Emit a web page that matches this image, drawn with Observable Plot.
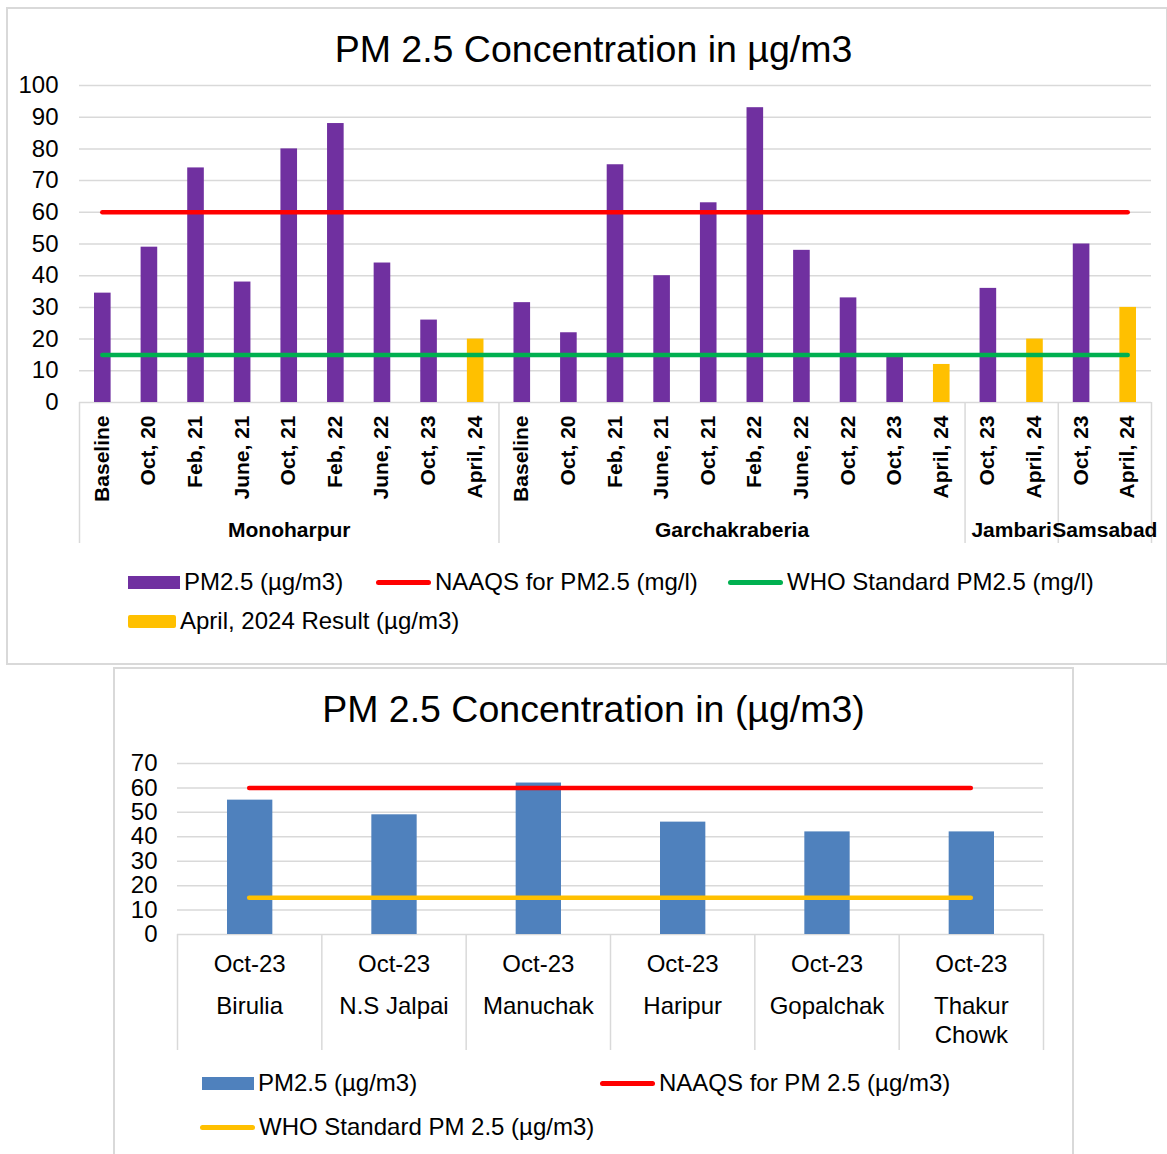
<!DOCTYPE html>
<html>
<head>
<meta charset="utf-8">
<script src="https://cdn.jsdelivr.net/npm/d3@7"></script>
<script src="https://cdn.jsdelivr.net/npm/@observablehq/plot@0.6"></script>
<style>
  html, body { margin: 0; padding: 0; background: #fff; }
  body { width: 1167px; height: 1154px; position: relative; overflow: hidden;
         font-family: "Liberation Sans", Arial, sans-serif; color: #000; }
  .box { position: absolute; border: 2px solid #d9d9d9; box-sizing: border-box; }
  .title { position: absolute; left: 10px; width: 1167px; text-align: center;
           font-size: 37.5px; line-height: 37px; white-space: nowrap; }
  .plotwrap { position: absolute; left: 0; }
  .leg { position: absolute; display: flex; align-items: center; font-size: 24px;
         line-height: 24px; white-space: nowrap; }
  .sw { display: inline-block; margin-right: 4px; }
</style>
</head>
<body>
<script>
// ---------- Chart 1 data ----------
const sites1 = ["Monoharpur", "Garchakraberia", "Jambari", "Samsabad"];
const monoharpurLabels = ["Baseline", "Oct, 20", "Feb, 21", "June, 21", "Oct, 21", "Feb, 22", "June, 22", "Oct, 23", "April, 24"];
const monoharpurValues = [34.5, 49, 74, 38, 80, 88, 44, 26, 20];
const garchakraberiaLabels = ["Baseline", "Oct, 20", "Feb, 21", "June, 21", "Oct, 21", "Feb, 22", "June, 22", "Oct, 22", "Oct, 23", "April, 24"];
const garchakraberiaValues = [31.5, 22, 75, 40, 63, 93, 48, 33, 14.5, 12];
const jambariLabels = ["Oct, 23", "April, 24"];
const jambariValues = [36, 20];
const samsabadLabels = ["Oct, 23", "April, 24"];
const samsabadValues = [50, 30];
const aprilLabel = "April, 24";
const yTicks1 = [0, 10, 20, 30, 40, 50, 60, 70, 80, 90, 100];
const naaqs1 = 60;
const who1 = 15;

// ---------- Chart 2 data ----------
const sites2 = ["Birulia", "N.S Jalpai", "Manuchak", "Haripur", "Gopalchak", "Thakur\nChowk"];
const period2 = "Oct-23";
const values2 = [55, 49, 62, 46, 42, 42];
const yTicks2 = [0, 10, 20, 30, 40, 50, 60, 70];
const naaqs2 = 60;
const who2 = 15;

// ---------- colours ----------
const PURPLE = "#7030a0", YELLOW = "#ffc000", RED = "#ff0000", GREEN = "#00b050", BLUE = "#4f81bd", GRID = "#d9d9d9";
const FONT = '"Liberation Sans", Arial, sans-serif';

function el(tag, cls, css, text) {
  const e = document.createElement(tag);
  if (cls) e.className = cls;
  if (css) Object.assign(e.style, css);
  if (text != null) e.textContent = text;
  document.body.appendChild(e);
  return e;
}
function legendItem(left, top, swatchCss, label) {
  const d = el("div", "leg", {left: left + "px", top: top + "px"});
  const s = document.createElement("span");
  s.className = "sw";
  Object.assign(s.style, swatchCss);
  d.appendChild(s);
  const t = document.createElement("span");
  t.textContent = label;
  d.appendChild(t);
}

// ---------- Chart 1 ----------
el("div", "box", {left: "6px", top: "7px", width: "1162px", height: "658px"});
el("div", "title", {top: "31px"}, "PM 2.5 Concentration in µg/m3");

const groups1 = [
  {name: sites1[0], labels: monoharpurLabels, values: monoharpurValues},
  {name: sites1[1], labels: garchakraberiaLabels, values: garchakraberiaValues},
  {name: sites1[2], labels: jambariLabels, values: jambariValues},
  {name: sites1[3], labels: samsabadLabels, values: samsabadValues}
];
const rows1 = [];
const groupInfo1 = [];
const bounds1 = [-0.5];
groups1.forEach(g => {
  const start = rows1.length;
  g.labels.forEach((l, j) => rows1.push({site: g.name, label: l, value: g.values[j], i: rows1.length}));
  const end = rows1.length - 1;
  groupInfo1.push({name: g.name, center: (start + end) / 2});
  bounds1.push(end + 0.5);
});
const n1 = rows1.length;

const plot1 = Plot.plot({
  width: 1167, height: 490,
  marginLeft: 79, marginRight: 16, marginTop: 15, marginBottom: 158,
  x: {domain: [-0.5, n1 - 0.5], axis: null},
  y: {domain: [0, 100], axis: null},
  style: {fontFamily: FONT, color: "#000", background: "transparent", overflow: "visible"},
  marks: [
    Plot.gridY(yTicks1, {stroke: GRID, strokeOpacity: 1, strokeWidth: 1.5}),
    Plot.axisY(yTicks1, {tickSize: 0, tickPadding: 21, fontSize: 24, label: null}),
    Plot.rectY(rows1.filter(d => d.label !== aprilLabel), {x1: d => d.i - 0.5, x2: d => d.i + 0.5, y: "value", insetLeft: 15, insetRight: 15, fill: PURPLE}),
    Plot.rectY(rows1.filter(d => d.label === aprilLabel), {x1: d => d.i - 0.5, x2: d => d.i + 0.5, y: "value", insetLeft: 15, insetRight: 15, fill: YELLOW}),
    Plot.ruleY([naaqs1], {x1: 0, x2: n1 - 1, stroke: RED, strokeWidth: 4.5, strokeLinecap: "round"}),
    Plot.ruleY([who1], {x1: 0, x2: n1 - 1, stroke: GREEN, strokeWidth: 4.5, strokeLinecap: "round"}),
    Plot.ruleX(bounds1, {y1: 0, y2: 0, insetBottom: -141, stroke: GRID, strokeWidth: 1.5}),
    Plot.text(rows1, {x: "i", text: "label", frameAnchor: "bottom", dx: 6, dy: 13, rotate: -90, textAnchor: "end", fontWeight: "bold", fontSize: 21}),
    Plot.text(groupInfo1, {x: "center", text: "name", frameAnchor: "bottom", dy: 134, fontWeight: "bold", fontSize: 21})
  ]
});
el("div", "plotwrap", {top: "70px"}).appendChild(plot1);

legendItem(128, 570, {width: "52px", height: "13px", background: PURPLE}, "PM2.5 (µg/m3)");
legendItem(376, 570, {width: "55px", height: "5px", borderRadius: "3px", background: RED}, "NAAQS for PM2.5 (mg/l)");
legendItem(728, 570, {width: "55px", height: "5px", borderRadius: "3px", background: GREEN}, "WHO Standard PM2.5 (mg/l)");
legendItem(128, 609, {width: "48px", height: "13px", borderRadius: "2px", background: YELLOW}, "April, 2024 Result (µg/m3)");

// ---------- Chart 2 ----------
el("div", "box", {left: "113px", top: "667px", width: "961px", height: "500px"});
el("div", "title", {top: "691px"}, "PM 2.5 Concentration in (µg/m3)");

const rows2 = sites2.map((s, i) => ({site: s, period: period2, value: values2[i], i}));
const n2 = rows2.length;
const bounds2 = d3.range(n2 + 1).map(k => k - 0.5);

const plot2 = Plot.plot({
  width: 1167, height: 315,
  marginLeft: 177, marginRight: 124, marginTop: 23, marginBottom: 121,
  x: {domain: [-0.5, n2 - 0.5], axis: null},
  y: {domain: [0, 70], axis: null},
  style: {fontFamily: FONT, color: "#000", background: "transparent", overflow: "visible"},
  marks: [
    Plot.gridY(yTicks2, {stroke: GRID, strokeOpacity: 1, strokeWidth: 1.5}),
    Plot.axisY(yTicks2, {tickSize: 0, tickPadding: 20, fontSize: 24, label: null}),
    Plot.rectY(rows2, {x1: d => d.i - 0.5, x2: d => d.i + 0.5, y: "value", insetLeft: 50, insetRight: 49, fill: BLUE}),
    Plot.ruleY([naaqs2], {x1: 0, x2: n2 - 1, stroke: RED, strokeWidth: 4.5, strokeLinecap: "round"}),
    Plot.ruleY([who2], {x1: 0, x2: n2 - 1, stroke: YELLOW, strokeWidth: 4.5, strokeLinecap: "round"}),
    Plot.ruleX(bounds2, {y1: 0, y2: 0, insetBottom: -116, stroke: GRID, strokeWidth: 1.5}),
    Plot.text(rows2, {x: "i", text: "period", frameAnchor: "bottom", dy: 37, fontSize: 24}),
    Plot.text(rows2, {x: "i", text: "site", frameAnchor: "bottom", dy: 60, lineAnchor: "top", lineHeight: 1.17, fontSize: 24})
  ]
});
el("div", "plotwrap", {top: "740px"}).appendChild(plot2);

legendItem(202, 1071, {width: "52px", height: "13px", background: BLUE}, "PM2.5 (µg/m3)");
legendItem(600, 1071, {width: "55px", height: "5px", borderRadius: "3px", background: RED}, "NAAQS for PM 2.5 (µg/m3)");
legendItem(200, 1115, {width: "55px", height: "5px", borderRadius: "3px", background: YELLOW}, "WHO Standard PM 2.5 (µg/m3)");
</script>
</body>
</html>
